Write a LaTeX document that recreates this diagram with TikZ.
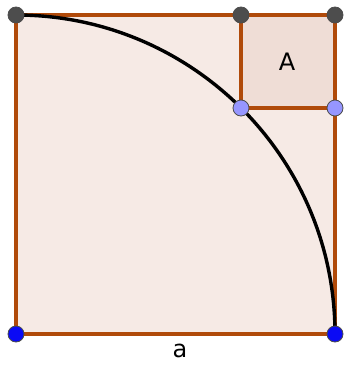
\documentclass[tikz,border=0pt]{standalone}
\usepackage{fontspec}
\setmainfont{DejaVu Sans}
\begin{document}
\begin{tikzpicture}[x=1pt,y=-1pt,
  edge/.style={draw=edgec,line width=4.5pt},
  pt/.style={circle,draw=black!70,line width=0.8pt,minimum size=16pt,inner sep=0pt},
  lbl/.style={font=\fontsize{24}{24}\selectfont,text=black}]
\definecolor{edgec}{RGB}{176,74,10}
\definecolor{fillbig}{RGB}{246,234,229}
\definecolor{fillsmall}{RGB}{239,221,214}
\definecolor{gpt}{RGB}{77,77,77}
\definecolor{lbpt}{RGB}{150,150,255}
\definecolor{bpt}{RGB}{10,10,245}
\useasboundingbox (0,0) rectangle (343,367);
\coordinate (P1) at (16,15);
\coordinate (P2) at (241,15);
\coordinate (P3) at (335,15);
\coordinate (P4) at (241,108);
\coordinate (P5) at (335,108);
\coordinate (P6) at (16,334);
\coordinate (P7) at (335,334);
\fill[fillbig] (P1) rectangle (P7);
\fill[fillsmall] (P2) rectangle (P5);
\draw[edge] (P6) -- (P7) -- (P3) -- (P1) -- cycle;
\draw[edge] (P2) -- (P4) -- (P5);
\draw[black,line width=3.4pt] (P1) arc[start angle=-90,end angle=0,radius=319];
\node[lbl] (A) at (287,62) {A};
\node[lbl] (a) at (180,351) {a};
\foreach \p in {P1,P2,P3} \node[pt,fill=gpt] at (\p) {};
\foreach \p in {P4,P5} \node[pt,fill=lbpt] at (\p) {};
\foreach \p in {P6,P7} \node[pt,fill=bpt] at (\p) {};
\end{tikzpicture}
\end{document}
